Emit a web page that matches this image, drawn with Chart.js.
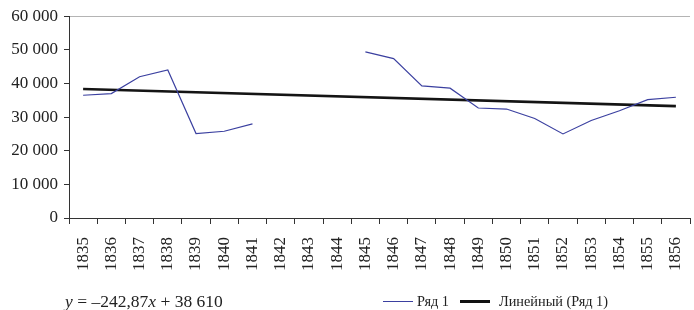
<!DOCTYPE html>
<html>
<head>
<meta charset="utf-8">
<script src="https://cdn.jsdelivr.net/npm/chart.js@4"></script>
<style>
  body { margin: 0; background: #fff; }
  .wrap { position: relative; width: 694px; height: 310px; overflow: hidden; }
  .eq, .legend { position: absolute; font-family: "Liberation Serif", "Times New Roman", serif; color: #222; line-height: 18px; }
  .eq { left: 65px; top: 292px; font-size: 17.5px; }
  .legend { left: 383px; top: 292px; font-size: 14.3px; display: flex; align-items: center; }
  .legend .ln { display: inline-block; width: 30px; margin-right: 4px; }
</style>
</head>
<body>
<div class="wrap">
  <canvas id="chart" width="694" height="310"></canvas>
  <div class="eq"><i>y</i> = –242,87<i>x</i> + 38 610</div>
  <div class="legend">
    <span class="ln" style="border-top: 1px solid #3b40a0;"></span><span>Ряд 1</span>
    <span class="ln" style="border-top: 3px solid #111; margin-left: 11px; margin-right: 9px;"></span><span>Линейный (Ряд 1)</span>
  </div>
</div>
<script>
// years on the x axis
const years = ['1835', '1836', '1837', '1838', '1839', '1840', '1841', '1842', '1843', '1844', '1845',
  '1846', '1847', '1848', '1849', '1850', '1851', '1852', '1853', '1854', '1855', '1856'];

// Ряд 1 (no data for 1842-1844)
const series1 = [36500, 37000, 42000, 44000, 25100, 25800, 28000, null, null, null, 49400,
  47400, 39300, 38600, 32700, 32400, 29600, 25000, 29000, 31900, 35200, 35900];

const trendLine = [38370, null, null, null, null, null, null, null, null, null, null,
  null, null, null, null, null, null, null, null, null, null, 33270];

const yTicks = [0, 10000, 20000, 30000, 40000, 50000, 60000];

const serif = 'Liberation Serif';

const ctx = document.getElementById('chart').getContext('2d');
const myChart = new Chart(ctx, {
  type: 'line',
  data: {
    labels: years,
    datasets: [{
      label: 'Ряд 1',
      data: series1,
      borderColor: '#3b40a0',
      borderWidth: 1.2,
      pointRadius: 0,
      tension: 0,
      spanGaps: false
    }, {
      label: 'Линейный (Ряд 1)',
      data: trendLine,
      borderColor: '#141414',
      borderWidth: 2.6,
      pointRadius: 0,
      spanGaps: true
    }]
  },
  options: {
    responsive: false,
    animation: false,
    layout: { padding: { top: 15, right: 4, left: 0, bottom: 0 } },
    plugins: {
      legend: { display: false },
      tooltip: { enabled: false }
    },
    scales: {
      x: {
        offset: true,
        grid: {
          offset: true,
          drawOnChartArea: false,
          color: '#333',
          tickLength: 6
        },
        border: { color: '#333', width: 1 },
        ticks: {
          minRotation: 90,
          maxRotation: 90,
          padding: 13,
          color: '#222',
          font: { family: serif, size: 17 }
        },
        afterFit: function (scale) {
          scale.height = 92;
          scale.paddingLeft = 0;
          scale.paddingRight = 0;
        }
      },
      y: {
        min: 0,
        max: 60000,
        afterBuildTicks: function (scale) {
          scale.ticks = yTicks.map(v => ({ value: v }));
        },
        grid: {
          color: c => (c.tick && c.tick.value === 60000) ? '#b4b4b4' : 'rgba(0,0,0,0)',
          tickColor: '#333',
          tickLength: 5
        },
        border: { color: '#333', width: 1 },
        ticks: {
          padding: 6,
          color: '#222',
          font: { family: serif, size: 17 },
          callback: v => v === 0 ? '0' : String(v / 1000) + ' 000'
        },
        afterFit: function (scale) { scale.width = 69; }
      }
    }
  }
});
</script>
</body>
</html>
